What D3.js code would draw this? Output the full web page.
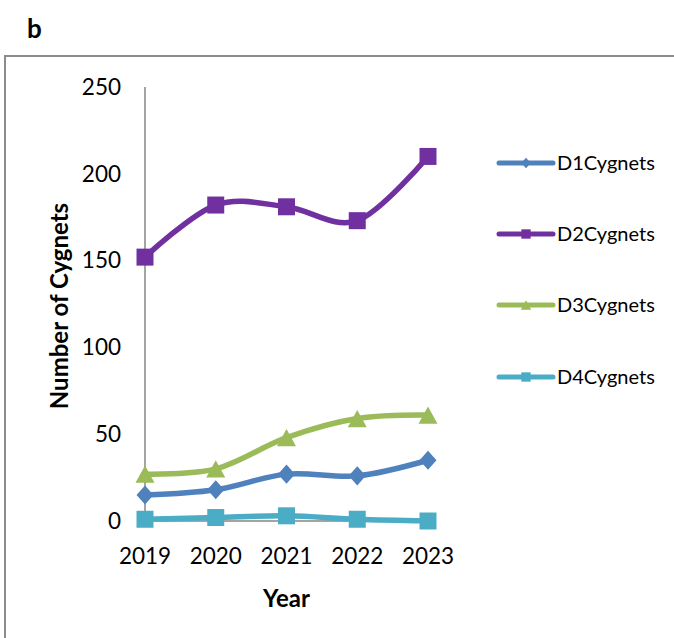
<!DOCTYPE html>
<html>
<head>
<meta charset="utf-8">
<script src="https://cdn.jsdelivr.net/npm/d3@7"></script>
<style>
  body { margin: 0; background: #fff; }
  text { font-family: Lato, "Open Sans", sans-serif; fill: #000; }
</style>
</head>
<body>
<div id="chart"></div>
<script>
// data
var years = ["2019", "2020", "2021", "2022", "2023"];
var d1Cygnets = [15, 18, 27, 26, 35];
var d2Cygnets = [152, 182, 181, 173, 210];
var d3Cygnets = [27, 30, 48, 59, 61];
var d4Cygnets = [1, 2, 3, 1, 0];
var yTicks = [0, 50, 100, 150, 200, 250];
var seriesNames = ["D1Cygnets", "D2Cygnets", "D3Cygnets", "D4Cygnets"];

// Excel-like marker shapes; "size" here is the marker width in px.
var diamond = {
    draw: function(ctx, s) {
        var w = s / 2, h = s * 0.56;
        ctx.moveTo(0, -h); ctx.lineTo(w, 0); ctx.lineTo(0, h); ctx.lineTo(-w, 0); ctx.closePath();
    }
};
var square = {
    draw: function(ctx, s) {
        var h = s / 2;
        ctx.rect(-h, -h, s, s);
    }
};
var triangle = {
    draw: function(ctx, s) {
        var w = s / 2, h = s * 0.45;
        ctx.moveTo(0, -h); ctx.lineTo(w, h); ctx.lineTo(-w, h); ctx.closePath();
    }
};

var series = [
    { name: seriesNames[0], values: d1Cygnets, color: "#4f81bd", shape: diamond, size: 17 },
    { name: seriesNames[1], values: d2Cygnets, color: "#7030a0", shape: square, size: 17 },
    { name: seriesNames[2], values: d3Cygnets, color: "#9bbb59", shape: triangle, size: 19 },
    { name: seriesNames[3], values: d4Cygnets, color: "#4bacc6", shape: square, size: 17 }
];

var width = 674, height = 638;

//// SVG SETUP //////////////////////////////////////////////////////////////////
var svg = d3.select("#chart").append("svg")
            .attr("width", width)
            .attr("height", height);

// panel letter
svg.append("text")
    .attr("x", 27)
    .attr("y", 38)
    .style("font-size", "26px")
    .style("font-weight", "bold")
    .text("b");

// chart frame, cut off at right and bottom
svg.append("rect")
    .attr("x", 5)
    .attr("y", 56)
    .attr("width", 700)
    .attr("height", 620)
    .attr("fill", "none")
    .attr("stroke", "#8c8c8c")
    .attr("stroke-width", 2);

var x = d3.scalePoint()
          .domain(years)
          .range([145, 428]);

var y = d3.scaleLinear()
          .domain([0, 250])
          .range([521, 87]);

// y axis line + labels
svg.append("line")
    .attr("x1", x(years[0])).attr("x2", x(years[0]))
    .attr("y1", y(250)).attr("y2", y(0))
    .attr("stroke", "#868686")
    .attr("stroke-width", 1.5);

svg.selectAll(".ytick")
    .data(yTicks)
    .enter().append("text")
    .attr("class", "ytick")
    .attr("x", 121)
    .attr("y", function(d) { return y(d); })
    .attr("dy", ".35em")
    .style("text-anchor", "end")
    .style("font-size", "22.5px")
    .text(function(d) { return d; });

// x axis line + labels
svg.append("line")
    .attr("x1", x(years[0])).attr("x2", x(years[years.length - 1]))
    .attr("y1", y(0)).attr("y2", y(0))
    .attr("stroke", "#868686")
    .attr("stroke-width", 1.5);

svg.selectAll(".xtick")
    .data(years)
    .enter().append("text")
    .attr("class", "xtick")
    .attr("x", function(d) { return x(d); })
    .attr("y", 564)
    .style("text-anchor", "middle")
    .style("font-size", "22.5px")
    .text(function(d) { return d; });

// axis titles
svg.append("text")
    .attr("transform", "translate(68," + (y(125) + 2) + ") rotate(-90)")
    .style("text-anchor", "middle")
    .style("font-size", "24px")
    .style("font-weight", "bold")
    .text("Number of Cygnets");

svg.append("text")
    .attr("x", x("2021"))
    .attr("y", 607)
    .style("text-anchor", "middle")
    .style("font-size", "24px")
    .style("font-weight", "bold")
    .text("Year");

//// SERIES /////////////////////////////////////////////////////////////////////
var line = d3.line()
             .x(function(d, i) { return x(years[i]); })
             .y(function(d) { return y(d); })
             .curve(d3.curveCatmullRom.alpha(0));

// draw from last to first so D1 lands over D4 like the picture
series.slice().reverse().forEach(function(s) {
    var g = svg.append("g");
    g.append("path")
        .attr("d", line(s.values))
        .attr("fill", "none")
        .attr("stroke", s.color)
        .attr("stroke-width", 5.5)
        .attr("stroke-linejoin", "round");

    g.selectAll("path.marker")
        .data(s.values)
        .enter().append("path")
        .attr("class", "marker")
        .attr("d", d3.symbol().type(s.shape).size(s.size))
        .attr("transform", function(d, i) {
            return "translate(" + x(years[i]) + "," + y(d) + ")";
        })
        .attr("fill", s.color);
});

//// LEGEND /////////////////////////////////////////////////////////////////////
var legendY = [163, 234, 305, 377];

var legend = svg.selectAll(".legend")
    .data(series)
    .enter().append("g")
    .attr("class", "legend")
    .attr("transform", function(d, i) { return "translate(499," + legendY[i] + ")"; });

legend.append("line")
    .attr("x1", 0).attr("x2", 54)
    .attr("stroke", function(d) { return d.color; })
    .attr("stroke-width", 5)
    .attr("stroke-linecap", "round");

legend.append("path")
    .attr("d", function(d) { return d3.symbol().type(d.shape).size(d.size * 0.55)(); })
    .attr("transform", "translate(27,0)")
    .attr("fill", function(d) { return d.color; });

legend.append("text")
    .attr("x", 58)
    .attr("dy", ".35em")
    .style("font-size", "20px")
    .text(function(d) { return d.name; });
</script>
</body>
</html>
